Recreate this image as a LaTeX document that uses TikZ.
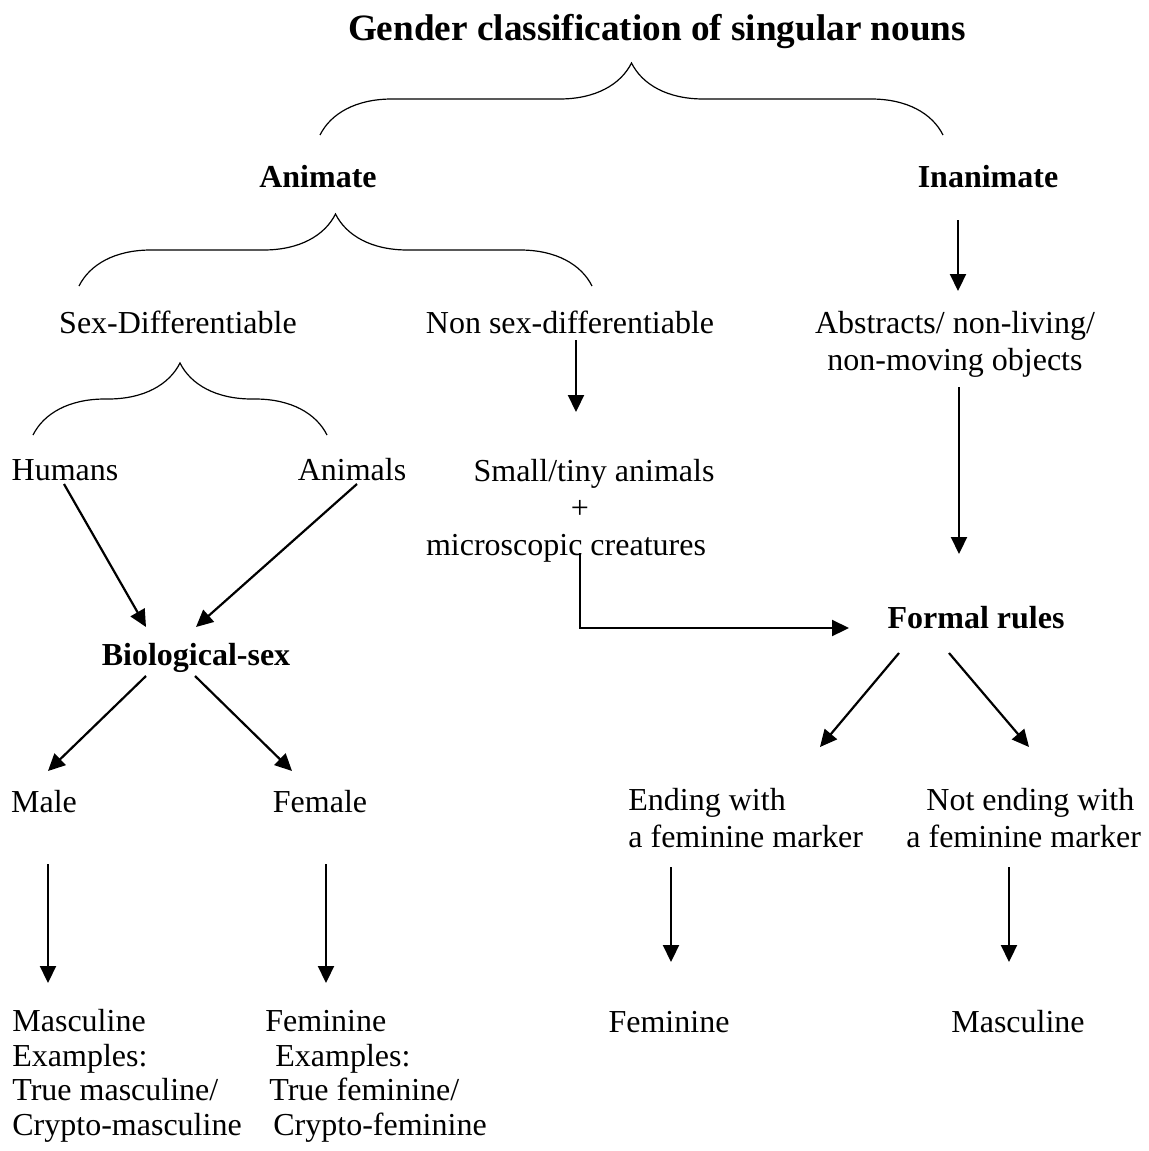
\documentclass[tikz,border=0pt]{standalone}
\usepackage{fontspec}
\setmainfont{Liberation Serif}
\usetikzlibrary{arrows.meta,decorations.pathreplacing}
\tikzset{
  lbl/.style={inner sep=0pt, anchor=base, font=\fontsize{16}{18.5}\selectfont},
  head/.style={lbl, font=\fontsize{16}{18.5}\selectfont\bfseries},
  blk/.style={lbl, align=left, anchor=base west, font=\fontsize{16}{17.2}\selectfont},
  arr/.style={-{Triangle[length=8.5pt,width=8pt]}, line width=1.1pt},
  grp/.style={decorate, decoration={brace, amplitude=36pt}, line width=0.6pt},
}
\begin{document}
\begin{tikzpicture}[x=0.5pt, y=-0.5pt]
  \useasboundingbox (0,0) rectangle (1149,1151);
  \node[head, font=\fontsize{18.6}{22}\selectfont\bfseries] (title) at (657,40) {Gender classification of singular nouns};
  \node[head] (animate) at (318,187) {Animate};
  \node[head] (inanimate) at (988,187) {Inanimate};
  \node[lbl] (sexdiff) at (178,333) {Sex-Differentiable};
  \node[lbl] (nonsex) at (570,333) {Non sex-differentiable};
  \node[lbl, align=center] (abstracts) at (955,370) {Abstracts/ non-living/\\non-moving objects};
  \node[lbl] (humans) at (65,480) {Humans};
  \node[lbl] (animals) at (352,480) {Animals};
  \node[lbl, align=center] (small) at (580,555) {\hspace*{14pt}Small/tiny animals\\+\\microscopic creatures\hspace*{14pt}};
  \node[head] (bio) at (196,665) {Biological-sex};
  \node[head] (formal) at (976,628) {Formal rules};
  \node[lbl] (male) at (44,812) {Male};
  \node[lbl] (female) at (320,812) {Female};
  \node[lbl, align=left, anchor=base west] (ending) at (628,847) {Ending with\\a feminine marker};
  \node[lbl, align=left, anchor=base west] (notending) at (906,847) {\hspace*{10pt}Not ending with\\a feminine marker};
  \node[blk] (masc) at (12,1135) {Masculine\\Examples:\\True masculine/\\Crypto-masculine};
  \node[blk] (fem) at (265,1135) {Feminine\\\hspace*{5pt}Examples:\\\hspace*{2pt}True feminine/\\\hspace*{4pt}Crypto-feminine};
  \node[lbl] (femrule) at (669,1032) {Feminine};
  \node[lbl] (mascrule) at (1018,1032) {Masculine};

  \draw[grp] ([shift={(2,-52)}]animate.base) -- ([shift={(-45,-52)}]inanimate.base);
  \draw[grp] ([shift={(-99,-47)}]sexdiff.base) -- ([shift={(22,-47)}]nonsex.base);
  \draw[grp] ([shift={(-32,-45)}]humans.base) -- ([shift={(-25,-45)}]animals.base);

  \draw[arr] ([shift={(-30,33)}]inanimate.base) -- ([shift={(3,-79)}]abstracts.base);
  \draw[arr] ([shift={(6,7)}]nonsex.base) -- ([shift={(-4,-143)}]small.base);
  \draw[arr] ([shift={(4,17)}]abstracts.base) -- ([shift={(-17,-74)}]formal.base);
  \draw[arr] ([shift={(0,-2)}]small.base) |- ([shift={(-127,0)}]formal.base);
  \draw[arr] ([shift={(-1,4)}]humans.base) -- ([shift={(-50,-38)}]bio.base);
  \draw[arr] ([shift={(5,4)}]animals.base) -- ([shift={(0,-38)}]bio.base);
  \draw[arr] ([shift={(-50,11)}]bio.base) -- ([shift={(4,-41)}]male.base);
  \draw[arr] ([shift={(-1,11)}]bio.base) -- ([shift={(-28,-41)}]female.base);
  \draw[arr] ([shift={(4,52)}]male.base) -- ([shift={(36,-152)}]masc.base west);
  \draw[arr] ([shift={(6,52)}]female.base) -- ([shift={(61,-152)}]fem.base west);
  \draw[arr] ([shift={(-77,25)}]formal.base) -- ([shift={(192,-100)}]ending.base west);
  \draw[arr] ([shift={(-27,25)}]formal.base) -- ([shift={(123,-100)}]notending.base west);
  \draw[arr] ([shift={(43,20)}]ending.base west) -- ([shift={(2,-70)}]femrule.base);
  \draw[arr] ([shift={(103,20)}]notending.base west) -- ([shift={(-9,-70)}]mascrule.base);
\end{tikzpicture}
\end{document}
